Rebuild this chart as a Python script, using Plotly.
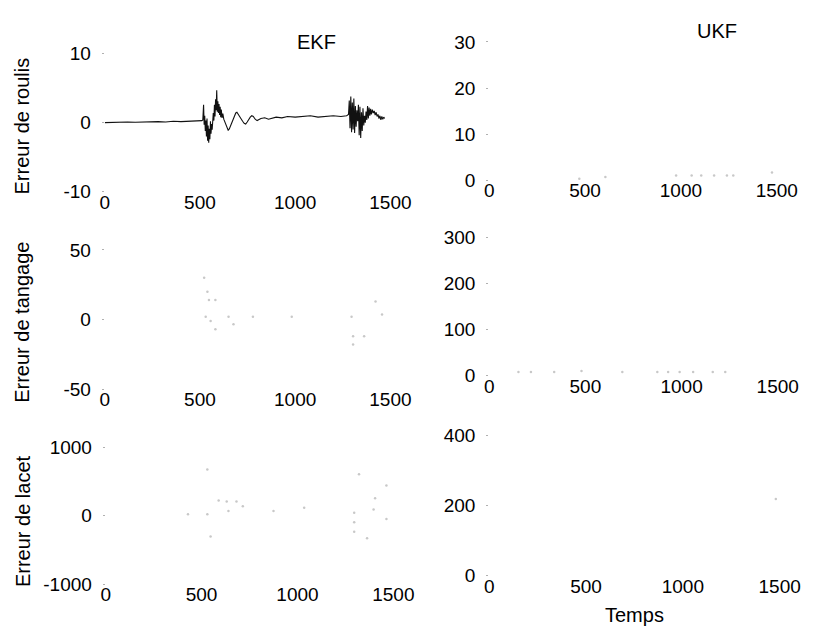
import plotly.graph_objects as go

# ---- EKF roll error (the only trace printed in full black) ----
t_roll = [0, 40, 80, 120, 160, 200, 240, 280, 320, 360, 400, 440, 480, 510,
          515, 519, 522, 525, 528, 531, 534, 537, 540, 543, 546, 549, 552, 555, 558,
          561, 564, 567, 570, 573, 576, 579, 582, 585, 588, 591, 594, 597, 600, 603,
          606, 609, 612, 616, 620, 625, 630, 636, 642, 648, 654, 660, 666, 672, 680,
          688, 694, 700, 708, 716, 724, 732, 740, 748, 756, 764, 772, 780, 790, 800,
          820, 840, 860, 880, 900, 930, 960, 1000, 1040, 1080, 1120, 1160, 1200, 1240, 1270,
          1280, 1284, 1288, 1292, 1296, 1300, 1304, 1308, 1312, 1316, 1320, 1324, 1328,
          1332, 1336, 1340, 1344, 1348, 1352, 1356, 1360, 1364, 1368, 1372, 1376, 1380,
          1384, 1388, 1392, 1396, 1400, 1405, 1410, 1415, 1420, 1425, 1430, 1435, 1440,
          1445, 1450, 1455, 1460, 1465, 1470]
roll_ekf = [0.0, 0.05, 0.0, 0.1, 0.05, 0.1, 0.1, 0.15, 0.1, 0.2, 0.15, 0.2, 0.25, 0.3,
            0.4, 2.6, -0.3, 1.0, -1.2, 0.3, -2.0, 0.6, -2.6, -0.4, -2.9, -0.9, -2.4, 0.2, -1.6,
            -0.2, -1.0, 0.5, 1.4, 0.3, 2.6, 0.9, 3.4, 1.8, 4.7, 1.6, 3.1, 1.4, 2.7, 1.1,
            2.3, 0.8, 1.9, 0.7, 1.3, 0.5, 0.1, -0.4, -0.8, -1.1, -0.9, -0.5, -0.1, 0.4, 0.9,
            1.4, 1.5, 1.2, 0.8, 0.5, 0.2, -0.1, -0.2, 0.1, 0.5, 0.8, 1.0, 0.9, 0.5, 0.3,
            0.6, 0.7, 0.5, 0.6, 0.8, 0.7, 0.9, 0.8, 0.9, 1.0, 0.8, 0.9, 1.0, 0.9, 1.0,
            1.2, 3.2, -0.8, 3.8, -1.4, 2.9, -1.0, 3.5, -1.5, 2.4, -0.6, 1.8, 0.2,
            2.6, -1.8, 2.3, -2.2, 1.5, -1.2, 2.1, -0.4, 1.0, 0.0, 1.6, 0.4, 2.4,
            0.6, 2.2, 1.0, 2.0, 1.2, 1.9, 1.4, 1.7, 1.1, 1.5, 0.9, 1.2, 0.6,
            1.0, 0.4, 0.9, 0.5, 0.8, 0.6]

# ---- faded samples of the other error curves ----
t_roll_ukf = [470, 606, 975, 1056, 1106, 1173, 1240, 1273, 1475]
roll_ukf = [0.3, 0.7, 1.0, 1.0, 1.0, 1.0, 1.0, 1.0, 1.7]

t_pitch_ekf = [522, 530, 539, 547, 556, 581, 581, 650, 676, 778, 982, 1296, 1304, 1304, 1362, 1422, 1456]
pitch_ekf = [30, 2, 20, 14, -1, 14, -7, 2, -3.5, 2, 2, 2, -12, -18, -12, 13, 3.5]

t_pitch_ukf = [152, 217, 338, 480, 692, 874, 930, 990, 1060, 1162, 1227]
pitch_ukf = [8, 8, 8, 10, 8, 8, 8, 8, 8, 8, 8]

t_yaw_ekf = [429, 530, 530, 547, 589, 631, 640, 682, 715, 875, 1035, 1296, 1296, 1296,
             1321, 1363, 1397, 1405, 1464, 1464]
yaw_ekf = [23, 674, 23, -302, 223, 209, 70, 209, 140, 70, 116, 46, -93, -232,
           605, -325, 93, 256, 442, -46]

t_yaw_ukf = [1480]
yaw_ukf = [219]

# ---- axes settings ----
x_ticks = [0, 500, 1000, 1500]
y_ranges = [[-10, 10], [0, 30], [-50, 50], [0, 300], [-1000, 1000], [0, 400]]
y_ticks = [[-10, 0, 10], [0, 10, 20, 30], [-50, 0, 50], [0, 100, 200, 300],
           [-1000, 0, 1000], [0, 200, 400]]
y_ticktext = [["-10", "0", "10"], ["0", "10", "20", "30"], ["-50", "0", "50"],
              ["0", "100", "200", "300"], ["-1000", "0", "1000"], ["0", "200", "400"]]

W, H = 822, 639
# panel boxes in pixels: (left, right, top, bottom)
boxes = [(103, 398, 45, 188), (500, 797, 33, 176),
         (103, 398, 248, 392), (500, 798, 235, 378),
         (104, 401, 452, 594), (500, 800, 440, 585)]

FONT = "Liberation Sans, Arial, Helvetica, sans-serif"

fig = go.Figure()

fig.add_trace(go.Scatter(x=t_roll, y=roll_ekf, mode="lines",
                         line=dict(color="#111111", width=1.1),
                         xaxis="x", yaxis="y", showlegend=False))

faint = dict(color="#c8c8c8", size=2.5)
for tx, ty, k in [(t_roll_ukf, roll_ukf, 2), (t_pitch_ekf, pitch_ekf, 3),
                  (t_pitch_ukf, pitch_ukf, 4), (t_yaw_ekf, yaw_ekf, 5),
                  (t_yaw_ukf, yaw_ukf, 6)]:
    fig.add_trace(go.Scatter(x=tx, y=ty, mode="markers", marker=faint,
                             xaxis=f"x{k}", yaxis=f"y{k}", showlegend=False))

layout = dict(width=W, height=H, margin=dict(l=0, r=0, t=0, b=0),
              paper_bgcolor="white", plot_bgcolor="white",
              font=dict(family=FONT, size=19, color="black"))

for i, (l, r, t, b) in enumerate(boxes):
    k = i + 1
    xs = "" if k == 1 else str(k)
    layout[f"xaxis{xs}"] = dict(domain=[l / W, r / W], range=[0, 1500],
                                tickvals=x_ticks, ticks="", showline=False,
                                showgrid=False, zeroline=False,
                                anchor=f"y{xs}", ticklabelstandoff=-3,
                                tickfont=dict(size=19))
    layout[f"yaxis{xs}"] = dict(domain=[1 - b / H, 1 - t / H], range=y_ranges[i],
                                tickvals=y_ticks[i], ticktext=y_ticktext[i],
                                ticks="outside", ticklen=2,
                                tickcolor="#b0b0b0", showline=False,
                                showgrid=False, zeroline=False,
                                anchor=f"x{xs}", ticklabelstandoff=7,
                                tickfont=dict(size=19))

def label(text, px, py, angle=0, size=20):
    return dict(text=text, x=px / W, y=1 - py / H, xref="paper", yref="paper",
                xanchor="center", yanchor="middle", showarrow=False,
                textangle=angle, font=dict(family=FONT, size=size, color="black"))

layout["annotations"] = [
    label("EKF", 322, 33),
    label("UKF", 735, 22),
    label("Erreur de roulis", 18, 120, -90),
    label("Erreur de tangage", 18, 323, -90),
    label("Erreur de lacet", 18, 528, -90),
    label("Temps", 650, 626),
]

fig.update_layout(**layout)
fig.write_html("out.html")
